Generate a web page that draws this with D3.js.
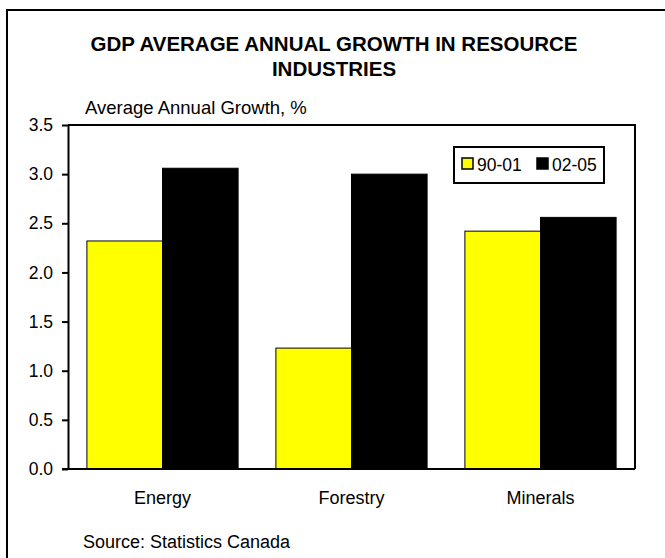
<!DOCTYPE html>
<html>
<head>
<meta charset="utf-8">
<script src="https://cdn.jsdelivr.net/npm/d3@7"></script>
<style>
  html, body { margin: 0; padding: 0; background: #fff; }
  svg { display: block; font-family: Arial, "Liberation Sans", sans-serif; }
</style>
</head>
<body>
<script>
// Chart data
const categories = ["Energy", "Forestry", "Minerals"];
const seriesNames = ["90-01", "02-05"];
const values9001 = [2.32, 1.23, 2.42];
const values0205 = [3.06, 3.00, 2.56];
const yTicks = [0, 0.5, 1.0, 1.5, 2.0, 2.5, 3.0, 3.5];
const seriesColors = ["#ffff00", "#000000"];

const W = 665, H = 558;
const plot = { left: 68, right: 635, top: 125, bottom: 469 };
const FONT = "Arial, 'Liberation Sans', sans-serif";

const svg = d3.select("body").append("svg").attr("width", W).attr("height", H);

// outer frame (runs past the right and bottom edges)
svg.append("path")
  .attr("d", `M7,${H + 5} V10 H${W + 5}`)
  .attr("fill", "none").attr("stroke", "#000").attr("stroke-width", 2);

// title
const title = svg.append("text")
  .attr("text-anchor", "middle")
  .attr("font-weight", "bold").attr("font-size", 20.5);
title.append("tspan").attr("x", 334).attr("y", 51).text("GDP AVERAGE ANNUAL GROWTH IN RESOURCE");
title.append("tspan").attr("x", 334).attr("y", 76).text("INDUSTRIES");

svg.append("text").attr("x", 85).attr("y", 114).attr("font-size", 18.5)
  .text("Average Annual Growth, %");

const x = d3.scaleBand().domain(categories)
  .range([plot.left, plot.right]).paddingInner(0.2).paddingOuter(0.1);
const xs = d3.scaleBand().domain(seriesNames).range([0, x.bandwidth()]);
const y = d3.scaleLinear().domain([0, 3.5]).range([plot.bottom, plot.top]);

// bars
const rows = categories.map((c, i) => ({ cat: c, vals: [values9001[i], values0205[i]] }));
const g = svg.append("g");
rows.forEach(r => {
  r.vals.forEach((v, j) => {
    g.append("rect")
      .attr("x", x(r.cat) + xs(seriesNames[j]))
      .attr("y", y(v))
      .attr("width", xs.bandwidth())
      .attr("height", y(0) - y(v))
      .attr("fill", seriesColors[j])
      .attr("stroke", "#000").attr("stroke-width", 1);
  });
});

// plot border (top and right)
svg.append("path")
  .attr("d", `M${plot.left},${plot.top} H${plot.right} V${plot.bottom}`)
  .attr("fill", "none").attr("stroke", "#000").attr("stroke-width", 2);

// y axis
const yAxis = svg.append("g").attr("transform", `translate(${plot.left},0)`)
  .call(d3.axisLeft(y).tickValues(yTicks).tickFormat(d3.format(".1f")).tickSize(6).tickSizeOuter(0));
yAxis.select(".domain").attr("stroke-width", 2);
yAxis.selectAll(".tick line").attr("stroke-width", 2);
yAxis.selectAll("text").attr("font-size", 17.5).attr("font-family", FONT)
  .attr("fill", "#000").attr("x", -15);

// x axis
const xAxis = svg.append("g").attr("transform", `translate(0,${plot.bottom})`)
  .call(d3.axisBottom(x).tickSize(0).tickSizeOuter(0).tickPadding(22));
xAxis.select(".domain").attr("stroke-width", 2).attr("d", `M${plot.left - 6},0H${plot.right}`);
xAxis.selectAll("text").attr("font-size", 18).attr("font-family", FONT)
  .attr("fill", "#000");

// legend
const lg = svg.append("g");
lg.append("rect").attr("x", 454).attr("y", 147).attr("width", 150).attr("height", 36)
  .attr("fill", "#fff").attr("stroke", "#000").attr("stroke-width", 2);
const legendX = [462, 537];
seriesNames.forEach((s, j) => {
  lg.append("rect").attr("x", legendX[j]).attr("y", 158).attr("width", 11).attr("height", 11)
    .attr("fill", seriesColors[j]).attr("stroke", "#000").attr("stroke-width", 1.5);
  lg.append("text").attr("x", legendX[j] + 15).attr("y", 171).attr("font-size", 17.5).text(s);
});

// source note
svg.append("text").attr("x", 83).attr("y", 548).attr("font-size", 18)
  .text("Source: Statistics Canada");
</script>
</body>
</html>
